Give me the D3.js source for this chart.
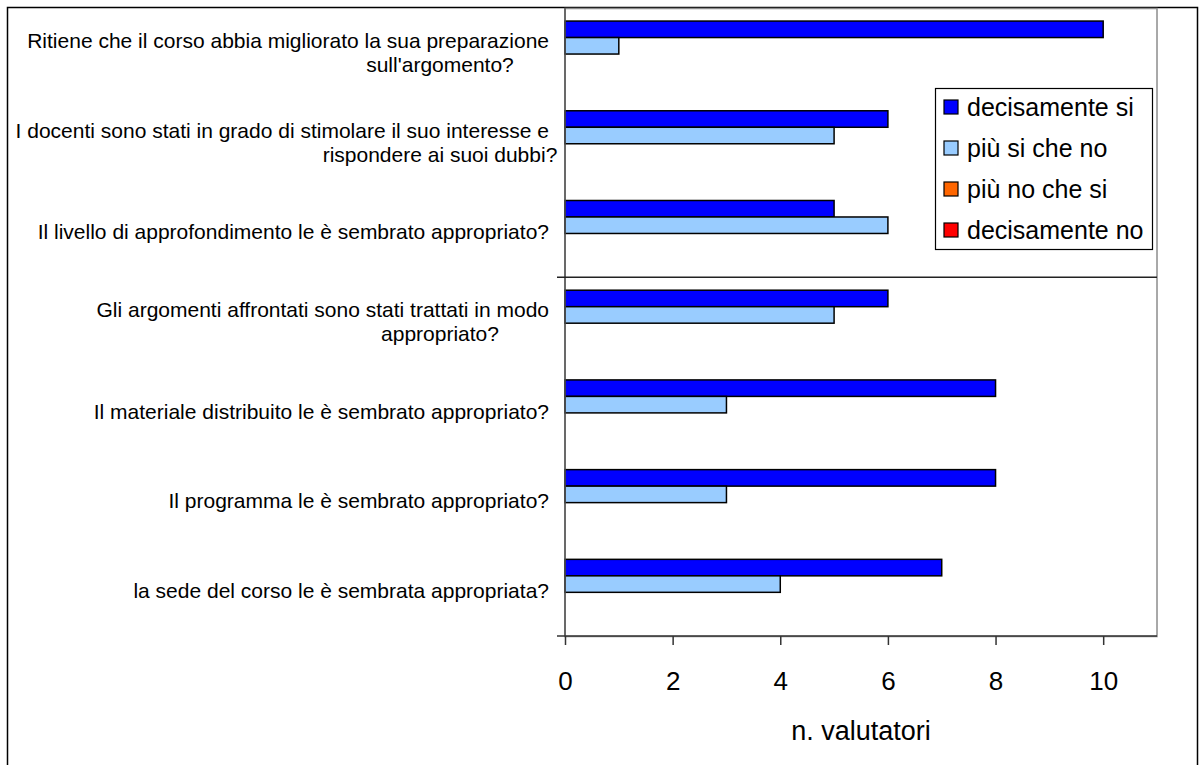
<!DOCTYPE html>
<html><head><meta charset="utf-8">
<script src="https://cdn.jsdelivr.net/npm/d3@7/dist/d3.min.js"></script>
<style>html,body{margin:0;padding:0;background:#fff}svg{display:block}text{font-family:"Liberation Sans",Arial,sans-serif;fill:#000}</style>
</head><body>
<svg id="c" width="1200" height="765"></svg>
<script>
const categories = [
  "Ritiene che il corso abbia migliorato la sua preparazione\nsull'argomento?",
  "I docenti sono stati in grado di stimolare il suo interesse e\nrispondere ai suoi dubbi?",
  "Il livello di approfondimento le è sembrato appropriato?",
  "Gli argomenti affrontati sono stati trattati in modo\nappropriato?",
  "Il materiale distribuito le è sembrato appropriato?",
  "Il programma le è sembrato appropriato?",
  "la sede del corso le è sembrata appropriata?"
];
const seriesNames = ["decisamente si", "più si che no", "più no che si", "decisamente no"];
const seriesColors = ["#0000FF", "#99CCFF", "#FF6600", "#FF0000"];
const decisamenteSi = [10, 6, 5, 6, 8, 8, 7];
const piuSiCheNo   = [1, 5, 6, 5, 3, 3, 4];
const piuNoCheSi   = [0, 0, 0, 0, 0, 0, 0];
const decisamenteNo = [0, 0, 0, 0, 0, 0, 0];
const xTicks = [0, 2, 4, 6, 8, 10];
const xTitle = "n. valutatori";

const seriesValues = [decisamenteSi, piuSiCheNo, piuNoCheSi, decisamenteNo];
const svg = d3.select("#c");
svg.append("rect").attr("width",1200).attr("height",765).attr("fill","#fff");

svg.append("path").attr("d","M7.5,765 V7.5 H1197.5 V765").attr("fill","none").attr("stroke","#000").attr("stroke-width",1.5);

const L=565, R=1157, T=8, B=636;
const x = d3.scaleLinear().domain([0,11]).range([L,R]);
const y = d3.scaleBand().domain(d3.range(categories.length)).range([T,B]).padding(0);
const ys = d3.scaleBand().domain(d3.range(seriesNames.length)).range([0,y.bandwidth()]).paddingInner(0).paddingOuter(0.72).align(0.55);

svg.append("rect").attr("x",L).attr("y",T+0.5).attr("width",R-L).attr("height",B-T).attr("fill","none").attr("stroke","#8c8c8c").attr("stroke-width",1.5);

const bars = [];
categories.forEach((c,i)=>seriesValues.forEach((vals,s)=>{ if(vals[i]>0) bars.push({i,s,v:vals[i]}); }));
svg.append("g").selectAll("rect").data(bars).join("rect")
  .attr("x",x(0)).attr("y",d=>y(d.i)+ys(d.s))
  .attr("width",d=>x(d.v)-x(0)).attr("height",ys.bandwidth())
  .attr("fill",d=>seriesColors[d.s]).attr("stroke","#000").attr("stroke-width",1.5);

svg.append("line").attr("x1",L).attr("x2",L).attr("y1",T).attr("y2",B).attr("stroke","#555").attr("stroke-width",1.5);
svg.append("line").attr("x1",L-8).attr("x2",R).attr("y1",B).attr("y2",B).attr("stroke","#333").attr("stroke-width",1.5);
svg.append("line").attr("x1",L-8).attr("x2",R).attr("y1",y(3)).attr("y2",y(3)).attr("stroke","#222").attr("stroke-width",1.5);

const xa = svg.append("g").attr("transform",`translate(0,${B})`)
  .call(d3.axisBottom(x).tickValues(xTicks).tickSize(9).tickPadding(0).tickFormat(d3.format("d")));
xa.select(".domain").remove();
xa.selectAll(".tick line").attr("stroke","#333").attr("stroke-width",1.5);
xa.selectAll(".tick text").attr("font-size",26).attr("font-family","'Liberation Sans',Arial,sans-serif").attr("dy",null).attr("y",54).attr("fill","#000");

svg.append("text").attr("x",(L+R)/2).attr("y",740).attr("text-anchor","middle").attr("font-size",27).text(xTitle);

categories.forEach((c,i)=>{
  const lines = c.split("\n");
  const cy = y(i)+y.bandwidth()/2;
  const lh = 24;
  const t = svg.append("text").attr("font-size",21);
  lines.forEach((ln,k)=>{
    const s = t.append("tspan").attr("y",cy + (k-(lines.length-1)/2)*lh + 7).text(ln);
    if(k===0) s.attr("x",549).attr("text-anchor","end");
    else s.attr("x",440).attr("text-anchor","middle");
  });
});

const lg = svg.append("g");
lg.append("rect").attr("x",935.5).attr("y",88.5).attr("width",217).attr("height",161).attr("fill","#fff").attr("stroke","#000").attr("stroke-width",1.2);
seriesNames.forEach((n,k)=>{
  const cy = 107 + k*41;
  lg.append("rect").attr("x",944).attr("y",cy-7).attr("width",14).attr("height",14).attr("fill",seriesColors[k]).attr("stroke","#000").attr("stroke-width",1.2);
  lg.append("text").attr("x",967).attr("y",cy+9).attr("font-size",25).text(n);
});
</script>
</body></html>
